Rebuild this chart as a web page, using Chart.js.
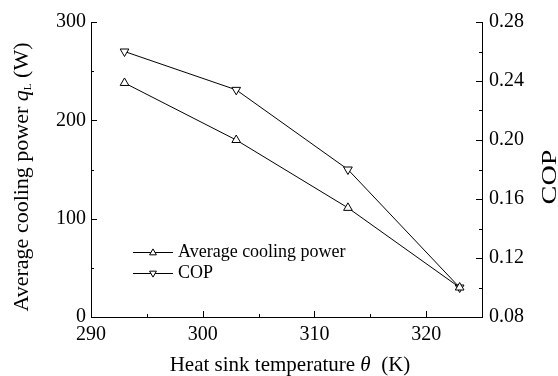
<!DOCTYPE html>
<html>
<head>
<meta charset="utf-8">
<script src="https://cdn.jsdelivr.net/npm/chart.js@4/dist/chart.umd.min.js"></script>
<style>
html,body{margin:0;padding:0;background:#fff;}
#wrap{width:558px;height:376px;position:relative;}
</style>
</head>
<body>
<div id="wrap"><canvas id="c" width="558" height="376"></canvas></div>
<script>
// ---- data ----
const temps = [293, 303, 313, 323];
const coolingPower = [238, 180, 111, 30];
const cop = [0.26, 0.234, 0.18, 0.10];
const seriesNames = ['Average cooling power', 'COP'];
const xTicks = [290, 300, 310, 320];
const xMinorTicks = [295, 305, 315, 325];
const yTicks = [0, 100, 200, 300];
const yMinorTicks = [50, 150, 250];
const y1Ticks = [0.08, 0.12, 0.16, 0.20, 0.24, 0.28];
const y1MinorTicks = [0.10, 0.14, 0.18, 0.22, 0.26];

const FAMILY = 'Liberation Serif';
const FONT = '"Liberation Serif", serif';
Chart.defaults.font.family = FAMILY;
Chart.defaults.color = '#000';

const innerTicks = {
  id: 'innerTicks',
  afterDraw(chart) {
    const ctx = chart.ctx;
    const {x, y, y1} = chart.scales;
    const ca = chart.chartArea;
    ctx.save();
    ctx.strokeStyle = '#000';
    ctx.lineWidth = 1;
    ctx.beginPath();
    const tx = (vals, len) => vals.forEach(v => {
      const px = Math.round(x.getPixelForValue(v)) + 0.5;
      ctx.moveTo(px, ca.bottom); ctx.lineTo(px, ca.bottom - len);
    });
    const ty = (vals, len) => vals.forEach(v => {
      const py = Math.round(y.getPixelForValue(v)) + 0.5;
      ctx.moveTo(ca.left, py); ctx.lineTo(ca.left + len, py);
    });
    const ty1 = (vals, len) => vals.forEach(v => {
      const py = Math.round(y1.getPixelForValue(v)) + 0.5;
      ctx.moveTo(ca.right, py); ctx.lineTo(ca.right - len, py);
    });
    tx(xTicks, 6); tx(xMinorTicks, 3);
    ty(yTicks, 6); ty(yMinorTicks, 3);
    ty1(y1Ticks, 6); ty1(y1MinorTicks, 3);
    ctx.stroke();

    // axis titles
    ctx.fillStyle = '#000';
    ctx.textBaseline = 'middle';
    drawParts(ctx, [
      {t: 'Heat sink temperature ', f: '21px ' + FONT},
      {t: 'θ', f: 'italic 21px ' + FONT},
      {t: '  (K)', f: '21px ' + FONT}
    ], 290, 365, 1);
    ctx.save();
    ctx.translate(22, 177);
    ctx.rotate(-Math.PI / 2);
    drawParts(ctx, [
      {t: 'Average cooling power ', f: '22px ' + FONT},
      {t: 'q', f: 'italic 22px ' + FONT},
      {t: 'L', f: '11px ' + FONT, dy: 6},
      {t: ' (W)', f: '22px ' + FONT}
    ], 0, 0, 1);
    ctx.restore();
    ctx.save();
    ctx.translate(550, 177);
    ctx.rotate(-Math.PI / 2);
    drawParts(ctx, [{t: 'COP', f: '22px ' + FONT}], 0, 0, 1.28);
    ctx.restore();

    // legend
    const legY = [252, 273];
    chart.data.datasets.forEach((ds, i) => {
      const ly = legY[i] + 0.5;
      ctx.beginPath();
      ctx.moveTo(133, ly); ctx.lineTo(173, ly);
      ctx.stroke();
      ctx.save();
      ctx.translate(153, ly);
      ctx.rotate(i === 1 ? Math.PI : 0);
      ctx.beginPath();
      const r = 3.6;
      ctx.moveTo(0, -r);
      ctx.lineTo(r * 0.95, r * 0.65);
      ctx.lineTo(-r * 0.95, r * 0.65);
      ctx.closePath();
      ctx.fillStyle = '#fff';
      ctx.fill();
      ctx.stroke();
      ctx.restore();
      ctx.fillStyle = '#000';
      ctx.font = '18px ' + FONT;
      ctx.textAlign = 'left';
      ctx.textBaseline = 'middle';
      ctx.fillText(ds.label, 178, legY[i]);
    });
    ctx.restore();
  }
};

function drawParts(ctx, parts, cx, cy, sx) {
  let w = 0;
  parts.forEach(p => { ctx.font = p.f; w += ctx.measureText(p.t).width; });
  ctx.save();
  ctx.translate(cx, cy);
  ctx.scale(sx, 1);
  let xx = -w / 2;
  ctx.textAlign = 'left';
  parts.forEach(p => {
    ctx.font = p.f;
    ctx.fillText(p.t, xx, p.dy || 0);
    xx += ctx.measureText(p.t).width;
  });
  ctx.restore();
}

const tickFont = {family: FAMILY, size: 20, style: 'normal', weight: 'normal'};

new Chart(document.getElementById('c'), {
  type: 'line',
  data: {
    datasets: [
      {
        label: seriesNames[0],
        data: temps.map((t, i) => ({x: t, y: coolingPower[i]})),
        yAxisID: 'y',
        borderColor: '#000', borderWidth: 1,
        pointStyle: 'triangle', pointRadius: 5, pointRotation: 0,
        pointBackgroundColor: '#fff', pointBorderColor: '#000', pointBorderWidth: 1,
        tension: 0
      },
      {
        label: seriesNames[1],
        data: temps.map((t, i) => ({x: t, y: cop[i]})),
        yAxisID: 'y1',
        borderColor: '#000', borderWidth: 1,
        pointStyle: 'triangle', pointRadius: 5, pointRotation: 180,
        pointBackgroundColor: '#fff', pointBorderColor: '#000', pointBorderWidth: 1,
        tension: 0
      }
    ]
  },
  options: {
    responsive: false,
    animation: false,
    devicePixelRatio: 1,
    layout: {padding: {top: 22, left: 0, right: 0, bottom: 0}},
    plugins: {legend: {display: false}, tooltip: {enabled: false}},
    scales: {
      x: {
        type: 'linear', min: 290, max: 325,
        afterBuildTicks: s => { s.ticks = xTicks.map(v => ({value: v})); },
        afterFit: s => { s.height = 59; },
        grid: {display: false, drawTicks: false},
        border: {display: true, color: '#000', width: 1},
        ticks: {font: tickFont, color: '#000', padding: 6, maxRotation: 0, autoSkip: false}
      },
      y: {
        type: 'linear', position: 'left', min: 0, max: 300,
        afterBuildTicks: s => { s.ticks = yTicks.map(v => ({value: v})); },
        afterFit: s => { s.width = 91; },
        grid: {display: false, drawTicks: false},
        border: {display: true, color: '#000', width: 1},
        ticks: {font: tickFont, color: '#000', padding: 5}
      },
      y1: {
        type: 'linear', position: 'right', min: 0.08, max: 0.28,
        afterBuildTicks: s => { s.ticks = y1Ticks.map(v => ({value: v})); },
        afterFit: s => { s.width = 76; },
        grid: {display: false, drawTicks: false},
        border: {display: true, color: '#000', width: 1},
        ticks: {font: tickFont, color: '#000', padding: 7, callback: v => v.toFixed(2)}
      }
    }
  },
  plugins: [innerTicks]
});
</script>
</body>
</html>
